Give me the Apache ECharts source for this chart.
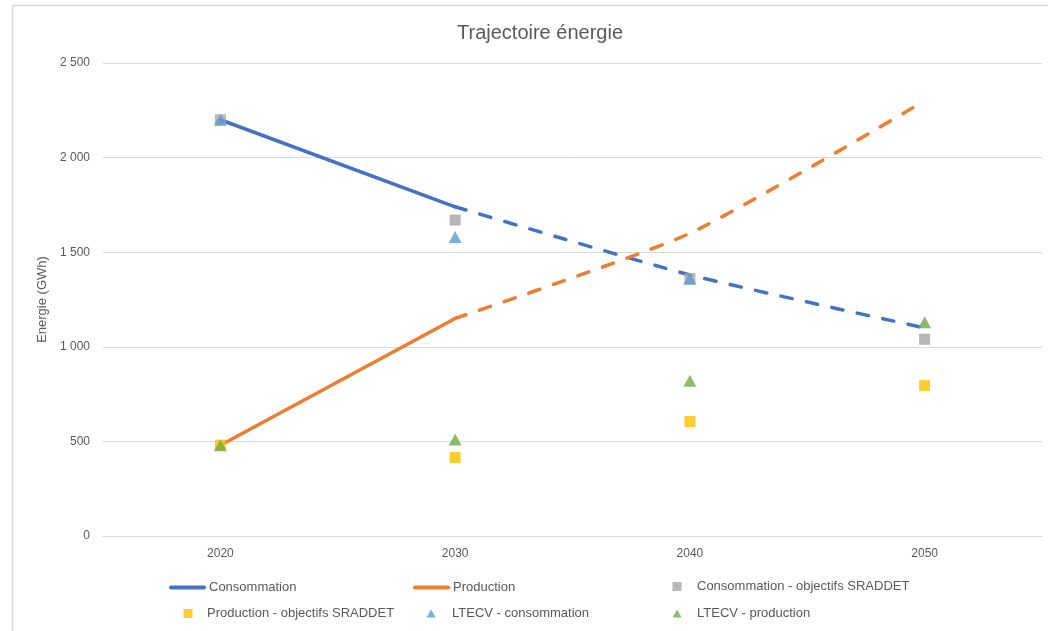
<!DOCTYPE html>
<html>
<head>
<meta charset="utf-8">
<script src="https://cdn.jsdelivr.net/npm/echarts@6/dist/echarts.min.js"></script>
<style>
html,body{margin:0;padding:0;background:#fff;}
#chart{width:1048px;height:631px;}
</style>
</head>
<body>
<div id="chart"></div>
<script>
// ---- data ----
var years = ['2020', '2030', '2040', '2050'];
var consoSolid = [2200, 1740, null, null];
var consoDashed = [null, 1740, 1380, 1100];
var prodSolid = [480, 1150, null, null];
var prodDashed = [null, 1150, 1600, 2300];
var consoSraddet = [2200, 1670, 1360, 1040];
var prodSraddet = [480, 415, 605, 795];
var ltecvConso = [2200, 1580, 1360, null];
var ltecvProd = [480, 510, 820, 1130];
var yTicks = { min: 0, max: 2500, interval: 500 };

var TXT = '#595959';
var FONT = 'Liberation Sans';
var dash = [11.5, 14.5];

function fmt(v) {
  var s = String(v);
  return s.replace(/\B(?=(\d{3})+(?!\d))/g, ' ');
}

function leg(name, left, top, w, h, pad, hideSymbol) {
  var l = {
    data: [name], left: left, top: top, padding: 0,
    itemWidth: w, itemHeight: h, selectedMode: false,
    textStyle: { color: TXT, fontFamily: FONT, fontSize: 13, padding: [0, 0, 0, pad] }
  };
  if (hideSymbol) {
    l.itemStyle = { color: 'rgba(0,0,0,0)', borderWidth: 0, borderColor: 'rgba(0,0,0,0)' };
    l.lineStyle = { width: 4 };
  }
  return l;
}

var chart = echarts.init(document.getElementById('chart'));
chart.setOption({
  backgroundColor: '#fff',
  animation: false,
  graphic: [{
    type: 'rect', silent: true,
    shape: { x: 12.5, y: 5.5, width: 1200, height: 700 },
    style: { fill: 'none', stroke: '#d9d9d9', lineWidth: 1.5 }
  }],
  title: {
    text: 'Trajectoire énergie',
    left: 452, top: 18,
    textStyle: { color: TXT, fontFamily: FONT, fontSize: 20, fontWeight: 'normal' }
  },
  legend: [
    leg('Consommation', 169, 581, 33, 4, 0, true),
    leg('Production', 413, 581, 33, 4, 0, true),
    leg('Consommation - objectifs SRADDET', 672.5, 580, 9, 9, 10.5),
    leg('Production - objectifs SRADDET', 183.5, 607, 9, 9, 9.5),
    leg('LTECV - consommation', 426.5, 607, 9, 8, 11.5),
    leg('LTECV - production', 672.5, 607, 9, 8, 10.5)
  ],
  grid: { left: 103, right: 6, top: 63, bottom: 95, containLabel: false, outerBoundsMode: 'none' },
  xAxis: {
    type: 'category', data: years, boundaryGap: true,
    axisTick: { show: false },
    axisLine: { show: true, lineStyle: { color: '#d9d9d9', width: 1 } },
    axisLabel: { color: TXT, fontFamily: FONT, fontSize: 12, margin: 12 }
  },
  yAxis: {
    type: 'value', min: yTicks.min, max: yTicks.max, interval: yTicks.interval,
    name: 'Energie (GWh)', nameLocation: 'middle', nameGap: 53,
    nameTextStyle: { color: TXT, fontFamily: FONT, fontSize: 13 },
    axisLine: { show: false }, axisTick: { show: false },
    axisLabel: { color: TXT, fontFamily: FONT, fontSize: 12, margin: 13, formatter: fmt },
    splitLine: { lineStyle: { color: '#d9d9d9', width: 1 } }
  },
  series: [
    { name: 'Consommation', type: 'line', data: consoSolid, symbol: 'none', z: 2,
      lineStyle: { color: '#4472C4', width: 3.5, cap: 'round' }, itemStyle: { color: '#4472C4' } },
    { name: 'Consommation (projection)', type: 'line', data: consoDashed, symbol: 'none', smooth: 0.2, z: 2,
      lineStyle: { color: '#4472C4', width: 3.5, type: dash, cap: 'round' }, itemStyle: { color: '#4472C4' } },
    { name: 'Production', type: 'line', data: prodSolid, symbol: 'none', z: 2,
      lineStyle: { color: '#ED7D31', width: 3.5, cap: 'round' }, itemStyle: { color: '#ED7D31' } },
    { name: 'Production (projection)', type: 'line', data: prodDashed, symbol: 'none', smooth: 0.2, z: 2,
      lineStyle: { color: '#ED7D31', width: 3.5, type: dash, cap: 'round' }, itemStyle: { color: '#ED7D31' } },
    { name: 'Consommation - objectifs SRADDET', type: 'scatter', data: consoSraddet, symbol: 'rect', symbolSize: 11, z: 3,
      itemStyle: { color: '#A5A5A5' } },
    { name: 'Production - objectifs SRADDET', type: 'scatter', data: prodSraddet, symbol: 'rect', symbolSize: 11, z: 3,
      itemStyle: { color: '#FFC000' } },
    { name: 'LTECV - consommation', type: 'scatter', data: ltecvConso, symbol: 'triangle', symbolSize: [13, 12], z: 4,
      itemStyle: { color: '#5B9BD5' } },
    { name: 'LTECV - production', type: 'scatter', data: ltecvProd, symbol: 'triangle', symbolSize: [13, 12], z: 4,
      itemStyle: { color: '#70AD47' } }
  ]
});
</script>
</body>
</html>
